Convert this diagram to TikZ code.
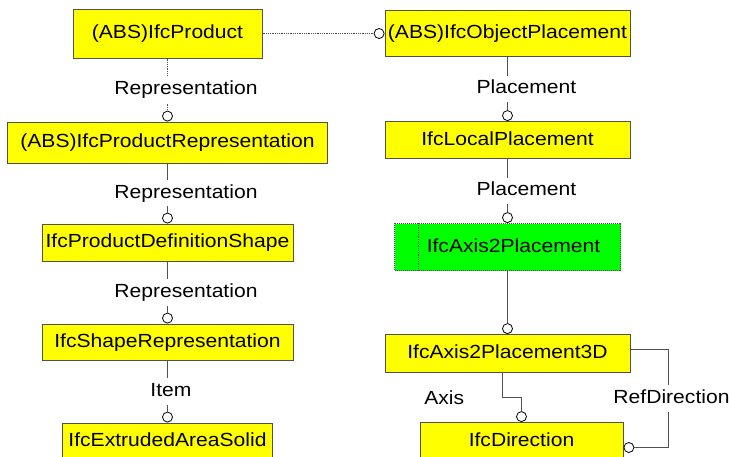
\documentclass[tikz,border=0pt]{standalone}
\usepackage{fontspec}
\setmainfont{Liberation Sans}[FakeStretch=1.11]
\usetikzlibrary{positioning}
\definecolor{entityfill}{HTML}{FFFF00}
\definecolor{selectfill}{HTML}{00FF00}
\definecolor{wire}{HTML}{505050}

\begin{document}
\begin{tikzpicture}[x=1pt, y=-1pt, font=\fontsize{19}{23}\selectfont,
  entity/.style={draw=wire, fill=entityfill, line width=1pt, inner sep=0pt,
    minimum height=37pt, text height=10pt, text depth=0pt},
  select/.style={entity, fill=selectfill, densely dotted},
  attr/.style={fill=white, inner xsep=2pt, inner ysep=8.3pt, text height=10pt, text depth=0pt},
  ring/.style={circle, draw=black, fill=white, line width=0.8pt, inner sep=0pt, minimum size=10pt},
  link/.style={draw=wire, line width=0.8pt}]
%\draw [help lines] (0,0) grid (729,456);
\useasboundingbox (0,0) rectangle (729,456);

% product side
\node[entity, minimum width=189pt, minimum height=49pt] (prod)     at (167.5,33.5) {(ABS)IfcProduct};
\node[entity, minimum width=320pt, minimum height=41pt, below=63pt of prod]     (prodrep)  {(ABS)IfcProductRepresentation};
\node[entity, minimum width=251pt, below=60pt of prodrep]                      (pds)      {IfcProductDefinitionShape};
\node[entity, minimum width=251pt, minimum height=36pt, below=62pt of pds]      (shaperep) {IfcShapeRepresentation};
\node[entity, minimum width=210pt, below=62pt of shaperep]                     (extsolid) {IfcExtrudedAreaSolid};

% placement side
\node[entity, minimum width=245pt, minimum height=46pt, right=122pt of prod]   (objpl)    {(ABS)IfcObjectPlacement};
\node[entity, minimum width=245pt, below=64pt of objpl]                        (locpl)    {IfcLocalPlacement};
\node[select, minimum width=226pt, minimum height=47pt, below=64pt of locpl]   (ax2)      {\hspace*{12pt}IfcAxis2Placement};
\node[entity, minimum width=245pt, minimum height=38pt, below=63pt of ax2]     (ax3d)     {IfcAxis2Placement3D};
\node[entity, minimum width=203pt, minimum height=38pt, below=49pt of ax3d, xshift=14pt] (dir) {IfcDirection};

\draw[link, densely dotted] ([xshift=24pt]ax2.north west) -- ([xshift=24pt]ax2.south west);

% rings
\node[ring, left=0pt of objpl]     (robjpl)    {};
\node[ring, above=0pt of prodrep]  (rprodrep)  {};
\node[ring, above=0pt of pds]      (rpds)      {};
\node[ring, above=0pt of shaperep] (rshaperep) {};
\node[ring, above=0pt of extsolid] (rextsolid) {};
\node[ring, above=0pt of locpl]    (rlocpl)    {};
\node[ring, above=0pt of ax2]      (rax2)      {};
\node[ring, above=0pt of ax3d]     (rax3d)     {};
\node[ring, above=0pt of dir]      (raxis)     {};
\node[ring, right=0pt of dir.east, yshift=-6pt] (rrefdir) {};

% Edges
\draw[link, densely dotted] (prod) -- (robjpl);
\draw[link, densely dotted] (prod) -- node[attr, pos=0.6, xshift=18.5pt] {Representation} (rprodrep);
\draw[link] (prodrep)  -- node[attr, pos=0.6, xshift=18.5pt] {Representation} (rpds);
\draw[link] (pds)      -- node[attr, pos=0.6, xshift=18.5pt] {Representation} (rshaperep);
\draw[link] (shaperep) -- node[attr, pos=0.6, xshift=3.5pt]  {Item}           (rextsolid);
\draw[link] (objpl)    -- node[attr, pos=0.6, xshift=19pt]   {Placement}      (rlocpl);
\draw[link] (locpl)    -- node[attr, pos=0.6, xshift=19pt]   {Placement}      (rax2);
\draw[link] (ax2) -- (rax3d);
\draw[link] ([xshift=-5pt]ax3d.south) -- node[attr, pos=1, left=36pt, yshift=-2pt] {Axis} ++(0,24) -| (raxis);
\draw[link] ([yshift=4.5pt]ax3d.east) -- ++(38,0) |- node[attr, pos=0.25, xshift=3pt] {RefDirection} (rrefdir);
\end{tikzpicture}
\end{document}
